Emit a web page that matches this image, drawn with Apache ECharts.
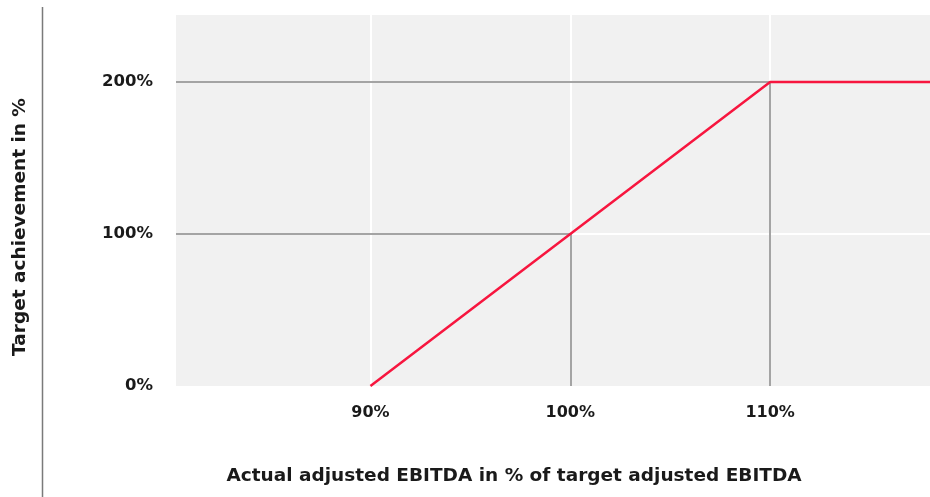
<!DOCTYPE html>
<html>
<head>
<meta charset="utf-8">
<script src="https://cdn.jsdelivr.net/npm/echarts@6/dist/echarts.min.js"></script>
<style>html,body{margin:0;padding:0;background:#fff}#c{width:930px;height:497px}</style>
</head>
<body>
<div id="c"></div>
<script>
// ---- data ----
var xValues = [90, 100, 110, 118];
var yValues = [0, 100, 200, 200];
var xTicks = [90, 100, 110];
var yTicks = [0, 100, 200];
var xMin = 80.27, xMax = 118;
var yMin = 0, yMax = 244;
var refPoints = [[100, 100], [110, 200]];
var xTitle = 'Actual adjusted EBITDA in % of target adjusted EBITDA';
var yTitle = 'Target achievement in %';

var FONT = 'DejaVu Sans';
var chart = echarts.init(document.getElementById('c'), null, {renderer: 'canvas'});

var whiteLines = [];
xTicks.forEach(function (v) { whiteLines.push({xAxis: v}); });
yTicks.forEach(function (v) { if (v > yMin) whiteLines.push({yAxis: v}); });

var grayLines = [];
refPoints.forEach(function (p) {
  grayLines.push([{coord: [xMin, p[1]]}, {coord: [p[0], p[1]]}]);
  grayLines.push([{coord: [p[0], yMin]}, {coord: [p[0], p[1]]}]);
});

var data = xValues.map(function (x, i) { return [x, yValues[i]]; });

chart.setOption({
  animation: false,
  grid: {left: 176, right: 0, top: 15, bottom: 111, show: true, backgroundColor: '#f1f1f1', borderWidth: 0},
  xAxis: {
    type: 'value', min: xMin, max: xMax,
    axisLine: {show: false}, axisTick: {show: false}, splitLine: {show: false},
    axisLabel: {
      customValues: xTicks, margin: 19,
      formatter: function (v) { return Math.round(v) + '%'; },
      fontFamily: FONT, fontWeight: 'bold', fontSize: 16, color: '#1a1a1a'
    }
  },
  yAxis: {
    type: 'value', min: yMin, max: yMax,
    axisLine: {show: false}, axisTick: {show: false}, splitLine: {show: false},
    axisLabel: {
      customValues: yTicks, margin: 23,
      formatter: function (v) { return Math.round(v) + '%'; },
      fontFamily: FONT, fontWeight: 'bold', fontSize: 16.5, color: '#1a1a1a'
    }
  },
  graphic: [
    {type: 'line', shape: {x1: 42.5, y1: 7, x2: 42.5, y2: 497}, style: {stroke: '#7a7a7a', lineWidth: 1.5}},
    {type: 'text', x: 514, y: 476, style: {text: xTitle, fontFamily: FONT, fontWeight: 'bold', fontSize: 18.5, fill: '#1a1a1a', textAlign: 'center', textVerticalAlign: 'middle'}},
    {type: 'text', x: 20, y: 227, rotation: Math.PI / 2, style: {text: yTitle, fontFamily: FONT, fontWeight: 'bold', fontSize: 18.5, fill: '#1a1a1a', textAlign: 'center', textVerticalAlign: 'middle'}}
  ],
  series: [
    {
      type: 'line', data: [], z: 1, silent: true,
      markLine: {z: 1, silent: true, symbol: 'none', label: {show: false}, animation: false,
        lineStyle: {color: '#ffffff', width: 2, type: 'solid'}, data: whiteLines}
    },
    {
      type: 'line', data: [], z: 2, silent: true,
      markLine: {z: 2, silent: true, symbol: 'none', label: {show: false}, animation: false,
        lineStyle: {color: '#a4a4a4', width: 2, type: 'solid'}, data: grayLines}
    },
    {
      type: 'line', data: data, z: 10, showSymbol: false, symbol: 'none',
      lineStyle: {color: '#f7163f', width: 2.5}
    }
  ]
});
</script>
</body>
</html>
